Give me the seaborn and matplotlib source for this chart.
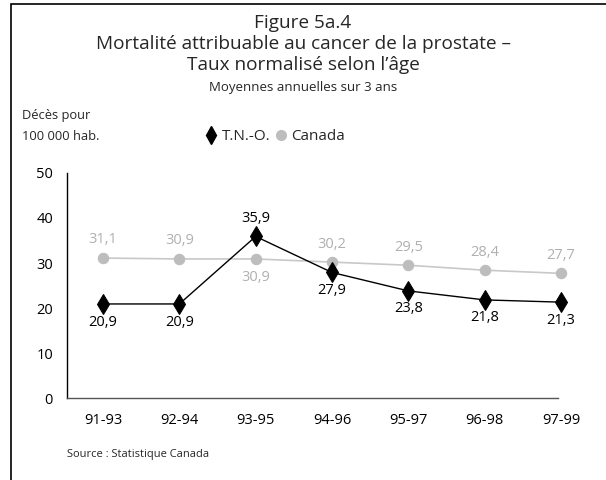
import pandas as pd
import matplotlib.pyplot as plt
import seaborn as sns
from matplotlib.lines import Line2D
from matplotlib.patches import Rectangle

# Données
periodes = ["91-93", "92-94", "93-95", "94-96", "95-97", "96-98", "97-99"]
tno = [20.9, 20.9, 35.9, 27.9, 23.8, 21.8, 21.3]
canada = [31.1, 30.9, 30.9, 30.2, 29.5, 28.4, 27.7]
yticks = [0, 10, 20, 30, 40, 50]

df = pd.DataFrame({
    "Période": periodes * 2,
    "Taux": tno + canada,
    "Région": ["T.N.-O."] * len(periodes) + ["Canada"] * len(periodes),
})

sns.set_style("white")
plt.rcParams["font.family"] = ["Open Sans", "DejaVu Sans"]

fig = plt.figure(figsize=(6.06, 4.8), dpi=100)
ax = fig.add_axes([67 / 606, 0.1708, 497 / 606, 0.4688])

# cadre autour de la figure (coupé à droite et en bas)
fig.patches.append(Rectangle((11 / 606, -0.1), 1.2, 1 - 4 / 480 + 0.1,
                             transform=fig.transFigure, fill=False,
                             edgecolor="black", linewidth=1.2))

gris = "#bdbdbd"
sns.lineplot(data=df[df["Région"] == "Canada"], x="Période", y="Taux",
             color="#c8c8c8", marker="o", markersize=7.5,
             markerfacecolor=gris, markeredgecolor=gris,
             linewidth=1.2, sort=False, ax=ax, clip_on=False)
sns.lineplot(data=df[df["Région"] == "T.N.-O."], x="Période", y="Taux",
             color="black", marker="d", markersize=10,
             markerfacecolor="black", markeredgecolor="black",
             linewidth=1.0, sort=False, ax=ax, clip_on=False)

# étiquettes de valeurs
for i, (t, c) in enumerate(zip(tno, canada)):
    haut = t > c
    ax.annotate(f"{t:.1f}".replace(".", ","), (i, t),
                xytext=(0, 13 if haut else -13), textcoords="offset points",
                ha="center", va="center", fontsize=10.5, color="black",
                annotation_clip=False)
    ax.annotate(f"{c:.1f}".replace(".", ","), (i, c),
                xytext=(0, -13 if haut else 13), textcoords="offset points",
                ha="center", va="center", fontsize=10.5, color="#b0b0b0",
                annotation_clip=False)

ax.set_xlim(-0.472, 6.04)
ax.spines["bottom"].set_bounds(-0.472, 5.96)
ax.set_ylim(0, 50)
ax.set_yticks(yticks)
ax.set_yticklabels([str(v) for v in yticks])
ax.set_xlabel("")
ax.set_ylabel("")
ax.tick_params(axis="both", length=0, labelsize=10.5, colors="black")
ax.tick_params(axis="x", pad=11)
ax.tick_params(axis="y", pad=10)
sns.despine(ax=ax)
ax.spines["left"].set_color("black")
ax.spines["left"].set_linewidth(1.0)
ax.spines["bottom"].set_color("#555555")
ax.spines["bottom"].set_linewidth(1.0)

# titres
fig.text(0.5, 1 - 23 / 480, "Figure 5a.4", ha="center", va="center", fontsize=13.7)
fig.text(0.5, 1 - 44 / 480, "Mortalité attribuable au cancer de la prostate –",
         ha="center", va="center", fontsize=13.7)
fig.text(0.5, 1 - 65 / 480, "Taux normalisé selon l’âge",
         ha="center", va="center", fontsize=13.7)
fig.text(0.5, 1 - 87 / 480, "Moyennes annuelles sur 3 ans",
         ha="center", va="center", fontsize=9.5)
fig.text(22 / 606, 1 - 115 / 480, "Décès pour", ha="left", va="center", fontsize=9.3)
fig.text(22 / 606, 1 - 137 / 480, "100 000 hab.", ha="left", va="center", fontsize=9.3)
fig.text(67 / 606, 1 - 455 / 480, "Source : Statistique Canada",
         ha="left", va="center", fontsize=8)

# légende
handles = [Line2D([], [], linestyle="none", marker="d", markersize=9,
                  color="black"),
           Line2D([], [], linestyle="none", marker="o", markersize=7,
                  color=gris)]
fig.legend(handles, ["T.N.-O.", "Canada"], loc="center",
           bbox_to_anchor=(275 / 606, 1 - 137 / 480), ncol=2, frameon=False,
           handlelength=0.8, handletextpad=0.3, columnspacing=0.3,
           fontsize=11, borderpad=0)

fig.savefig("out.png", dpi=100)
